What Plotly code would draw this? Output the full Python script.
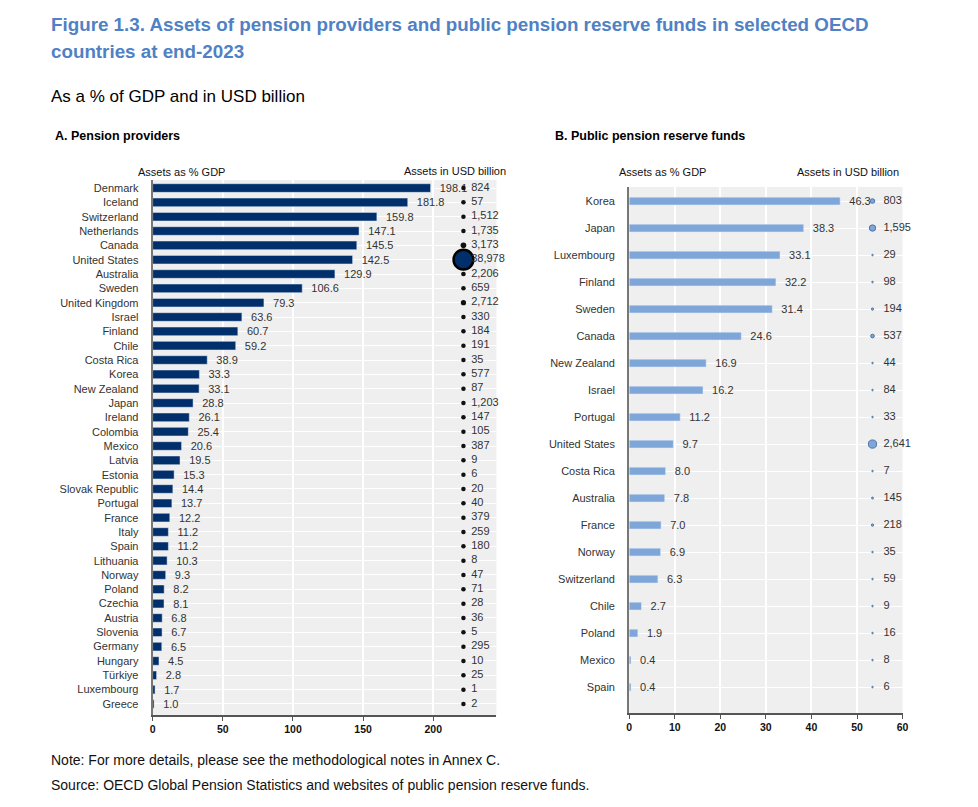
import plotly.graph_objects as go

# Browser window size; the plotly div sits inside the default 8px body margin
WIN_W, WIN_H, MARGIN = 978, 807, 8
W, H = WIN_W - 2 * MARGIN, WIN_H - 2 * MARGIN

# ---------------- data ----------------
a_countries = ["Denmark", "Iceland", "Switzerland", "Netherlands", "Canada", "United States",
               "Australia", "Sweden", "United Kingdom", "Israel", "Finland", "Chile",
               "Costa Rica", "Korea", "New Zealand", "Japan", "Ireland", "Colombia", "Mexico",
               "Latvia", "Estonia", "Slovak Republic", "Portugal", "France", "Italy", "Spain",
               "Lithuania", "Norway", "Poland", "Czechia", "Austria", "Slovenia", "Germany",
               "Hungary", "Türkiye", "Luxembourg", "Greece"]
a_gdp = [198.1, 181.8, 159.8, 147.1, 145.5, 142.5, 129.9, 106.6, 79.3, 63.6, 60.7, 59.2,
         38.9, 33.3, 33.1, 28.8, 26.1, 25.4, 20.6, 19.5, 15.3, 14.4, 13.7, 12.2, 11.2, 11.2,
         10.3, 9.3, 8.2, 8.1, 6.8, 6.7, 6.5, 4.5, 2.8, 1.7, 1.0]
a_usd = [824, 57, 1512, 1735, 3173, 38978, 2206, 659, 2712, 330, 184, 191,
         35, 577, 87, 1203, 147, 105, 387, 9, 6, 20, 40, 379, 259, 180,
         8, 47, 71, 28, 36, 5, 295, 10, 25, 1, 2]

b_countries = ["Korea", "Japan", "Luxembourg", "Finland", "Sweden", "Canada", "New Zealand",
               "Israel", "Portugal", "United States", "Costa Rica", "Australia", "France",
               "Norway", "Switzerland", "Chile", "Poland", "Mexico", "Spain"]
b_gdp = [46.3, 38.3, 33.1, 32.2, 31.4, 24.6, 16.9, 16.2, 11.2, 9.7, 8.0, 7.8, 7.0,
         6.9, 6.3, 2.7, 1.9, 0.4, 0.4]
b_usd = [803, 1595, 29, 98, 194, 537, 44, 84, 33, 2641, 7, 145, 218,
         35, 59, 9, 16, 8, 6]

a_ticks = [0, 50, 100, 150, 200]
b_ticks = [0, 10, 20, 30, 40, 50, 60]

# ---------------- style ----------------
NAVY = "#002f6c"
LIGHT = "#7ea6d9"
BG = "#efefef"
FONT = "Liberation Sans, Arial, sans-serif"
TXT = "#333333"
SMALL = 11


def px(x):
    """window pixel x -> paper fraction"""
    return (x - MARGIN) / W


def py(y):
    """window pixel y -> paper fraction"""
    return 1 - (y - MARGIN) / H


# column positions (in axis units) for the bubble columns
A_BUB_X, A_LAB_X = 221.5, 227
B_BUB_X, B_LAB_X = 53.4, 55.8

fig = go.Figure()

# Panel A bars
fig.add_trace(go.Bar(
    x=a_gdp, y=a_countries, orientation="h", marker_color=NAVY, width=0.6,
    texttemplate="\u00a0\u00a0%{x:.1f}", textposition="outside", constraintext="none",
    textfont=dict(size=SMALL, color=TXT, family=FONT), cliponaxis=False,
    xaxis="x", yaxis="y", showlegend=False))
# Panel A bubbles
a_sizes = [max(4.5, 0.1 * v ** 0.5) for v in a_usd]
a_colors = [NAVY if s > 10 else "#111111" for s in a_sizes]
fig.add_trace(go.Scatter(
    x=[A_BUB_X] * len(a_usd), y=a_countries, mode="markers",
    marker=dict(size=a_sizes, color=a_colors, opacity=1,
                line=dict(color="#000000", width=[2.5 if s > 10 else 0 for s in a_sizes])),
    xaxis="x", yaxis="y", showlegend=False, cliponaxis=False))
fig.add_trace(go.Scatter(
    x=[A_LAB_X] * len(a_usd), y=a_countries, mode="text",
    text=[f"{v:,}" for v in a_usd], textposition="middle right",
    textfont=dict(size=SMALL, color=TXT, family=FONT),
    xaxis="x", yaxis="y", showlegend=False, cliponaxis=False))

# Panel B bars
fig.add_trace(go.Bar(
    x=b_gdp, y=b_countries, orientation="h", marker_color=LIGHT, width=0.29,
    texttemplate="\u00a0\u00a0%{x:.1f}", textposition="outside", constraintext="none",
    textfont=dict(size=SMALL, color=TXT, family=FONT), cliponaxis=False,
    xaxis="x2", yaxis="y2", showlegend=False))
b_sizes = [max(1.5, 0.16 * v ** 0.5) for v in b_usd]
fig.add_trace(go.Scatter(
    x=[B_BUB_X] * len(b_usd), y=b_countries, mode="markers",
    marker=dict(size=b_sizes, color=LIGHT, opacity=1, line=dict(color="#4f73a8", width=1)),
    xaxis="x2", yaxis="y2", showlegend=False, cliponaxis=False))
fig.add_trace(go.Scatter(
    x=[B_LAB_X] * len(b_usd), y=b_countries, mode="text",
    text=[f"{v:,}" for v in b_usd], textposition="middle right",
    textfont=dict(size=SMALL, color=TXT, family=FONT),
    xaxis="x2", yaxis="y2", showlegend=False, cliponaxis=False))

xcommon = dict(showgrid=True, gridcolor="white", gridwidth=1.5, zeroline=False,
               showline=True, linecolor="#555555", linewidth=1.5, ticks="outside",
               ticklen=4, tickcolor="#555555",
               tickfont=dict(size=10.5, color="#111111", family=FONT, weight="bold"))
ycommon = dict(type="category", showgrid=True, gridcolor="white", gridwidth=1,
               showline=True, linecolor="#777777", linewidth=2, ticks="",
               tickfont=dict(size=SMALL, color=TXT, family=FONT), ticklabelstandoff=10)

fig.update_layout(
    width=W, height=H, margin=dict(l=0, r=0, t=0, b=0),
    paper_bgcolor="white", plot_bgcolor=BG, font=dict(family=FONT, color=TXT),
    xaxis=dict(domain=[px(151), px(498)], range=[0, 245], tickvals=a_ticks,
               anchor="y", **xcommon),
    yaxis=dict(domain=[py(715), py(180)], range=[36.77, -0.56],
               categoryarray=a_countries, categoryorder="array", anchor="x", **ycommon),
    xaxis2=dict(domain=[px(632), px(908)], range=[0, 60], tickvals=b_ticks,
                anchor="y2", **xcommon),
    yaxis2=dict(domain=[py(713), py(187)], range=[18.96, -0.52],
                categoryarray=b_countries, categoryorder="array", anchor="x2", **ycommon),
)

ann = []
ann.append(dict(text="<b>Figure 1.3. Assets of pension providers and public pension reserve funds in selected OECD</b>",
                x=px(46), y=py(25), xanchor="left", yanchor="middle", align="left",
                font=dict(size=18.8, color="#4f81c4", family=FONT)))
ann.append(dict(text="<b>countries at end-2023</b>",
                x=px(46), y=py(52), xanchor="left", yanchor="middle", align="left",
                font=dict(size=18.8, color="#4f81c4", family=FONT)))
ann.append(dict(text="As a % of GDP and in USD billion", x=px(46), y=py(97),
                xanchor="left", yanchor="middle",
                font=dict(size=17, color="#000000", family=FONT)))
ann.append(dict(text="<b>A. Pension providers</b>", x=px(50), y=py(136),
                xanchor="left", yanchor="middle",
                font=dict(size=12.5, color="#000000", family=FONT)))
ann.append(dict(text="<b>B. Public pension reserve funds</b>", x=px(555), y=py(136),
                xanchor="left", yanchor="middle",
                font=dict(size=12.5, color="#000000", family=FONT)))
for txt, xc, yc in [("Assets as % GDP", 180, 172), ("Assets in USD billion", 456, 171),
                    ("Assets as % GDP", 666, 172), ("Assets in USD billion", 853, 172)]:
    ann.append(dict(text=txt, x=px(xc), y=py(yc), xanchor="center", yanchor="middle",
                    font=dict(size=SMALL, color="#111111", family=FONT)))
ann.append(dict(text="Note: For more details, please see the methodological notes in Annex C.",
                x=px(46), y=py(760), xanchor="left", yanchor="middle", align="left",
                font=dict(size=14, color="#111111", family=FONT)))
ann.append(dict(text="Source: OECD Global Pension Statistics and websites of public pension reserve funds.",
                x=px(46), y=py(785), xanchor="left", yanchor="middle", align="left",
                font=dict(size=14, color="#111111", family=FONT)))
for a in ann:
    a.update(xref="paper", yref="paper", showarrow=False)
fig.update_layout(annotations=ann)

fig.write_html("out.html")
